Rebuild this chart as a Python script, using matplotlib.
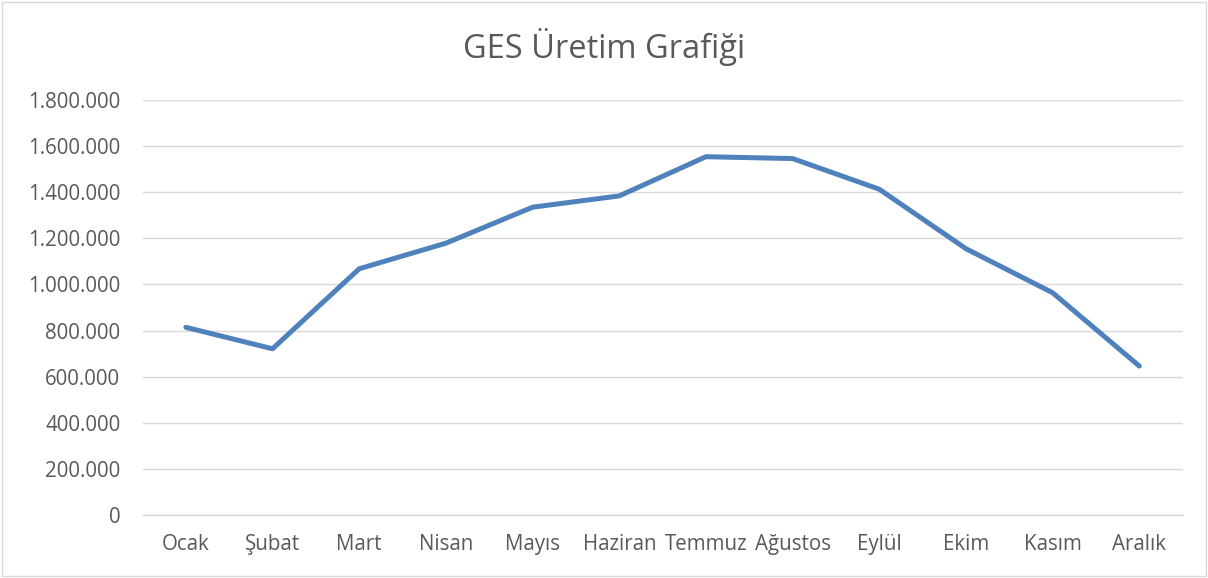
import matplotlib
matplotlib.use("Agg")
import matplotlib.pyplot as plt
from matplotlib.ticker import FuncFormatter
from matplotlib.patches import Rectangle

aylar = ['Ocak', 'Şubat', 'Mart', 'Nisan', 'Mayıs', 'Haziran', 'Temmuz',
         'Ağustos', 'Eylül', 'Ekim', 'Kasım', 'Aralık']
uretim = [814000, 721000, 1068000, 1179000, 1335000, 1384000, 1554000,
          1546000, 1413000, 1155000, 964000, 646000]
y_ticks = [0, 200000, 400000, 600000, 800000, 1000000, 1200000,
           1400000, 1600000, 1800000]

plt.rcParams['font.family'] = ['Open Sans', 'DejaVu Sans']
text_color = '#595959'
grid_color = '#d9d9d9'

fig = plt.figure(figsize=(12.08, 5.78), dpi=100)
ax = fig.add_axes([0.118, 0.109, 0.861, 0.718])

x = range(len(aylar))
ax.plot(x, uretim, color='#4f81bd', linewidth=3.6, solid_capstyle='round',
        solid_joinstyle='round')

ax.set_xlim(-0.5, len(aylar) - 0.5)
ax.set_ylim(0, 1800000)
ax.set_yticks(y_ticks)
ax.yaxis.set_major_formatter(FuncFormatter(lambda v, p: f'{int(v):,}'.replace(',', '.')))
ax.set_xticks(list(x))
ax.set_xticklabels(aylar)
ax.tick_params(axis='both', length=0, labelsize=14.8, colors=text_color)
ax.tick_params(axis='x', pad=14)
ax.tick_params(axis='y', pad=16)
ax.grid(axis='y', color=grid_color, linewidth=1)
ax.set_axisbelow(True)
for side in ['top', 'right', 'left']:
    ax.spines[side].set_visible(False)
ax.spines['bottom'].set_color(grid_color)
ax.spines['bottom'].set_linewidth(1)

fig.text(0.5, 0.918, 'GES Üretim Grafiği', ha='center', va='center',
         fontsize=23.5, color=text_color)

fig.patches.append(Rectangle((0.002, 0.003), 0.996, 0.994, transform=fig.transFigure,
                             fill=False, edgecolor=grid_color, linewidth=1))

fig.savefig('out.png', dpi=100)
